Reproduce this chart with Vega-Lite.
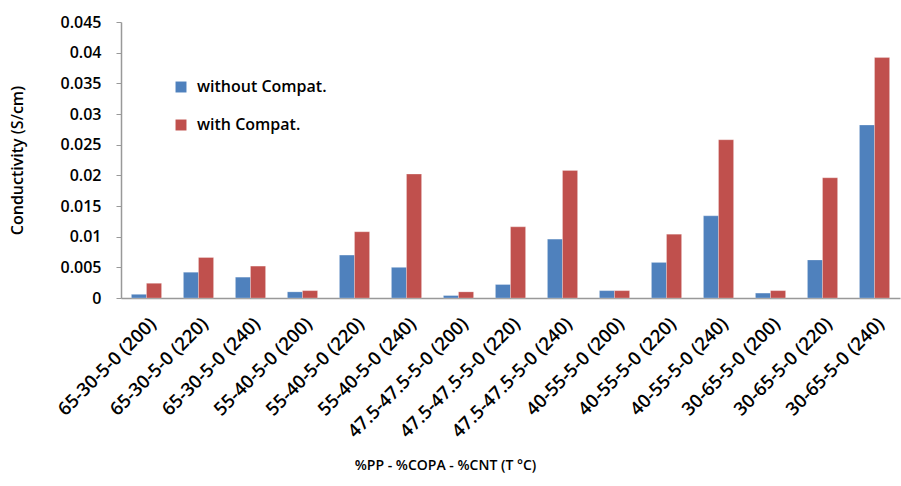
{
  "$schema": "https://vega.github.io/schema/vega-lite/v6.json",
  "autosize": "none",
  "width": 779,
  "height": 276,
  "padding": {"left": 121, "top": 22, "right": 1, "bottom": 188},
  "background": "white",
  "data": {
    "values": [
      {"sample": "65-30-5-0 (200)", "series": "without Compat.", "value": 0.0006},
      {"sample": "65-30-5-0 (200)", "series": "with Compat.", "value": 0.0024},
      {"sample": "65-30-5-0 (220)", "series": "without Compat.", "value": 0.0042},
      {"sample": "65-30-5-0 (220)", "series": "with Compat.", "value": 0.0066},
      {"sample": "65-30-5-0 (240)", "series": "without Compat.", "value": 0.0034},
      {"sample": "65-30-5-0 (240)", "series": "with Compat.", "value": 0.0052},
      {"sample": "55-40-5-0 (200)", "series": "without Compat.", "value": 0.001},
      {"sample": "55-40-5-0 (200)", "series": "with Compat.", "value": 0.0012},
      {"sample": "55-40-5-0 (220)", "series": "without Compat.", "value": 0.007},
      {"sample": "55-40-5-0 (220)", "series": "with Compat.", "value": 0.0108},
      {"sample": "55-40-5-0 (240)", "series": "without Compat.", "value": 0.005},
      {"sample": "55-40-5-0 (240)", "series": "with Compat.", "value": 0.0202},
      {"sample": "47.5-47.5-5-0 (200)", "series": "without Compat.", "value": 0.0004},
      {"sample": "47.5-47.5-5-0 (200)", "series": "with Compat.", "value": 0.001},
      {"sample": "47.5-47.5-5-0 (220)", "series": "without Compat.", "value": 0.0022},
      {"sample": "47.5-47.5-5-0 (220)", "series": "with Compat.", "value": 0.0116},
      {"sample": "47.5-47.5-5-0 (240)", "series": "without Compat.", "value": 0.0096},
      {"sample": "47.5-47.5-5-0 (240)", "series": "with Compat.", "value": 0.0208},
      {"sample": "40-55-5-0 (200)", "series": "without Compat.", "value": 0.0012},
      {"sample": "40-55-5-0 (200)", "series": "with Compat.", "value": 0.0012},
      {"sample": "40-55-5-0 (220)", "series": "without Compat.", "value": 0.0058},
      {"sample": "40-55-5-0 (220)", "series": "with Compat.", "value": 0.0104},
      {"sample": "40-55-5-0 (240)", "series": "without Compat.", "value": 0.0134},
      {"sample": "40-55-5-0 (240)", "series": "with Compat.", "value": 0.0258},
      {"sample": "30-65-5-0 (200)", "series": "without Compat.", "value": 0.0008},
      {"sample": "30-65-5-0 (200)", "series": "with Compat.", "value": 0.0012},
      {"sample": "30-65-5-0 (220)", "series": "without Compat.", "value": 0.0062},
      {"sample": "30-65-5-0 (220)", "series": "with Compat.", "value": 0.0196},
      {"sample": "30-65-5-0 (240)", "series": "without Compat.", "value": 0.0282},
      {"sample": "30-65-5-0 (240)", "series": "with Compat.", "value": 0.0392}
    ]
  },
  "config": {
    "view": {"stroke": null},
    "font": "Open Sans"
  },
  "mark": {"type": "bar", "stroke": "white", "strokeWidth": 0.5, "strokeOpacity": 0.5},
  "encoding": {
    "x": {
      "field": "sample",
      "type": "nominal",
      "sort": null,
      "scale": {"paddingInner": 0.42, "paddingOuter": 0.2},
      "axis": {
        "title": "%PP - %COPA - %CNT (T °C)",
        "titleFont": "Open Sans",
        "titleFontSize": 14,
        "titleFontWeight": 600,
        "titleColor": "black",
        "titleX": 324,
        "titleY": 160,
        "labelFont": "Open Sans",
        "labelAngle": -45,
        "labelFontSize": 18.5,
        "labelFontWeight": 600,
        "labelColor": "black",
        "labelPadding": 16,
        "labelOverlap": false,
        "ticks": false,
        "domainColor": "#999999",
        "domainWidth": 1.5
      }
    },
    "xOffset": {"field": "series", "type": "nominal", "sort": ["without Compat.", "with Compat."], "scale": {"paddingInner": 0}},
    "y": {
      "field": "value",
      "type": "quantitative",
      "scale": {"domain": [0, 0.045]},
      "axis": {
        "title": "Conductivity (S/cm)",
        "titleFont": "Open Sans",
        "titleFontSize": 16,
        "titleFontWeight": 600,
        "titleColor": "black",
        "titleX": -96,
        "titleY": 138,
        "values": [0, 0.005, 0.01, 0.015, 0.02, 0.025, 0.03, 0.035, 0.04, 0.045],
        "format": "~g",
        "labelFont": "Open Sans",
        "labelFontSize": 16,
        "labelFontWeight": 600,
        "labelColor": "black",
        "labelPadding": 15,
        "grid": false,
        "tickColor": "#999999",
        "tickSize": 5,
        "domainColor": "#999999",
        "domainWidth": 1.5
      }
    },
    "color": {
      "field": "series",
      "type": "nominal",
      "sort": ["without Compat.", "with Compat."],
      "scale": {"domain": ["without Compat.", "with Compat."], "range": ["#4F81BD", "#C0504D"]},
      "legend": {
        "title": null,
        "orient": "none",
        "legendX": 52,
        "legendY": 57,
        "symbolType": "square",
        "symbolSize": 120,
        "symbolStrokeWidth": 0,
        "labelFont": "Open Sans",
        "labelFontSize": 16,
        "labelFontWeight": 600,
        "labelColor": "black",
        "rowPadding": 22,
        "labelOffset": 8
      }
    }
  }
}
